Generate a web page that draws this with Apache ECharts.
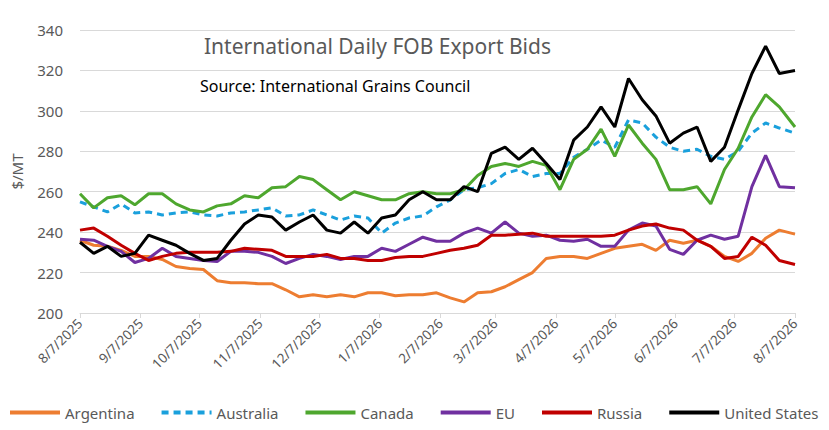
<!DOCTYPE html>
<html>
<head>
<meta charset="utf-8">
<script src="https://cdn.jsdelivr.net/npm/echarts@6/dist/echarts.min.js"></script>
<style>
  html, body { margin: 0; padding: 0; background: #fff; }
  #chart { width: 829px; height: 430px; }
</style>
</head>
<body>
<div id="chart"></div>
<script>
// weekly readings, Aug 2025 - Aug 2026
var dates = [
  '2025-08-07','2025-08-14','2025-08-21','2025-08-28','2025-09-04','2025-09-11','2025-09-18','2025-09-25',
  '2025-10-02','2025-10-09','2025-10-16','2025-10-23','2025-10-30','2025-11-06','2025-11-13','2025-11-20',
  '2025-11-27','2025-12-04','2025-12-11','2025-12-18','2025-12-25','2026-01-01','2026-01-08','2026-01-15',
  '2026-01-22','2026-01-29','2026-02-05','2026-02-12','2026-02-19','2026-02-26','2026-03-05','2026-03-12',
  '2026-03-19','2026-03-26','2026-04-02','2026-04-09','2026-04-16','2026-04-23','2026-04-30','2026-05-07',
  '2026-05-14','2026-05-21','2026-05-28','2026-06-04','2026-06-11','2026-06-18','2026-06-25','2026-07-02',
  '2026-07-09','2026-07-16','2026-07-23','2026-07-30','2026-08-07'
];
var argentina = [236, 233.5, 233, 231, 228, 228, 226.5, 223, 222, 221.5, 216, 215, 215, 214.5, 214.5, 211.5,
  208, 209, 208, 209, 208, 210, 210, 208.5, 209, 209, 210, 207.5, 205.5, 210, 210.5, 213, 216.5, 220, 227, 228,
  228, 227, 229.5, 232, 233, 234, 231, 236, 234.5, 236, 233, 228, 225.5, 229.5, 237, 241, 239];
var australia = [255, 252.5, 250, 254, 249.5, 250, 248.5, 249.5, 250, 248.5, 248, 249.5, 250, 251, 252, 248,
  248.5, 251, 248.5, 246, 248, 247, 239.5, 244.5, 247, 248, 252.5, 256, 261, 262, 264, 269, 271, 267.5, 269, 269,
  277, 281, 285.5, 282, 295.5, 294, 287, 282, 280, 281, 277.5, 276, 280, 289, 294, 291.5, 289];
var canada = [259, 252, 257, 258, 253.5, 259, 259, 254, 251, 250, 253, 254, 258, 257, 262, 262.5, 267.5, 266,
  261, 256, 260, 258, 256, 256, 259, 260, 259, 259, 261, 268, 272.5, 274, 272.5, 275, 273, 261, 276, 281, 291,
  277.5, 293, 284, 276, 261, 261, 262.5, 254, 271, 281.5, 297, 308, 302, 292];
var eu = [236.5, 236, 233, 230.5, 225, 227, 232, 228, 227, 226, 225.5, 230.5, 230.5, 230, 228, 224.5, 227, 229,
  228, 226.5, 228, 228, 232, 230.5, 234, 237.5, 235.5, 235.5, 239.5, 242, 239.5, 245, 239.5, 238, 238.5, 236,
  235.5, 236.5, 233, 233, 241, 244.5, 243, 231.5, 229, 236, 238.5, 236.5, 238, 262.5, 278, 262.5, 262];
var russia = [241, 242, 238, 233.5, 229.5, 226, 228, 229.5, 230, 230, 230, 230.5, 232, 231.5, 231, 228, 228,
  228, 229, 227, 227, 226, 226, 227.5, 228, 228, 229.5, 231, 232, 233.5, 238.5, 238.5, 239, 239.5, 238, 238, 238,
  238, 238, 238.5, 241, 243, 244, 242, 241, 236, 233, 227, 228, 237.5, 233.5, 226, 224];
var unitedStates = [235, 229.5, 233, 228, 229.5, 238.5, 236, 233.5, 229.5, 226, 227, 236, 244, 248.5, 247.5,
  241, 245, 248.5, 241, 239.5, 245, 239.5, 247, 248.5, 256, 260, 256, 256, 262.5, 260, 279, 282, 276, 281.5,
  274, 266, 285.5, 292, 302, 292, 316, 305.5, 297.5, 284, 289, 292, 275, 282, 300.5, 318.5, 332, 318.5, 320];
var monthTicks = [
  '2025-08-07','2025-09-07','2025-10-07','2025-11-07','2025-12-07','2026-01-07','2026-02-07',
  '2026-03-07','2026-04-07','2026-05-07','2026-06-07','2026-07-07','2026-08-07'
];
var yTicks = { min: 200, max: 340, step: 20 };

function ts(d) { return Date.UTC(+d.slice(0, 4), +d.slice(5, 7) - 1, +d.slice(8, 10)); }
function pairs(vals) {
  return vals.map(function(v, i) { return [ts(dates[i]), v]; });
}

var font = 'Noto Sans';
var grey = '#595959';

function line(name, vals, color, dashed) {
  return {
    name: name,
    type: 'line',
    data: pairs(vals),
    symbol: 'none',
    z: name === 'United States' ? 10 : 5,
    lineStyle: { color: color, width: 3, type: dashed ? [7, 5] : 'solid' },
    itemStyle: { color: color }
  };
}

var tickTs = monthTicks.map(ts);

var chart = echarts.init(document.getElementById('chart'), null, { renderer: 'svg' });
chart.setOption({
  animation: false,
  textStyle: { fontFamily: font },
  title: [
    { text: 'International Daily FOB Export Bids', left: 199, top: 30,
      textStyle: { fontFamily: font, fontSize: 21, fontWeight: 'normal', color: grey } },
    { text: 'Source: International Grains Council', left: 195, top: 73,
      textStyle: { fontFamily: font, fontSize: 16, fontWeight: 'normal', color: '#000' } }
  ],
  grid: { left: 80, right: 34, top: 30, bottom: 117 },
  legend: {
    bottom: 10,
    left: 8,
    padding: 0,
    itemWidth: 50,
    itemHeight: 10,
    itemGap: 25,
    itemStyle: { opacity: 0 },
    lineStyle: { width: 4 },
    textStyle: { fontFamily: font, fontSize: 15, color: grey },
    data: ['Argentina', 'Australia', 'Canada', 'EU', 'Russia', 'United States']
  },
  xAxis: {
    type: 'value',
    min: tickTs[0],
    max: tickTs[tickTs.length - 1],
    axisLine: { lineStyle: { color: '#D9D9D9' } },
    axisTick: { show: true, length: 5, lineStyle: { color: '#D9D9D9' }, customValues: tickTs },
    splitLine: { show: false },
    axisLabel: {
      rotate: 45,
      fontSize: 13.5,
      color: grey,
      fontFamily: font,
      margin: 8,
      customValues: tickTs,
      formatter: function(v) {
        var d = new Date(v);
        return (d.getUTCMonth() + 1) + '/' + d.getUTCDate() + '/' + d.getUTCFullYear();
      }
    }
  },
  yAxis: {
    type: 'value',
    min: yTicks.min,
    max: yTicks.max,
    interval: yTicks.step,
    name: '$/MT',
    nameLocation: 'middle',
    nameGap: 56,
    nameTextStyle: { fontFamily: font, fontSize: 15, color: grey },
    axisLine: { show: false },
    axisTick: { show: false },
    axisLabel: { fontSize: 15, color: grey, fontFamily: font, margin: 17 },
    splitLine: { lineStyle: { color: '#D9D9D9' } }
  },
  series: [
    line('Argentina', argentina, '#ED7D31'),
    line('Australia', australia, '#1AA0DC', true),
    line('Canada', canada, '#4EA72E'),
    line('EU', eu, '#7030A0'),
    line('Russia', russia, '#C00000'),
    line('United States', unitedStates, '#000000')
  ]
});
window.addEventListener('resize', function() { chart.resize(); });
</script>
</body>
</html>
